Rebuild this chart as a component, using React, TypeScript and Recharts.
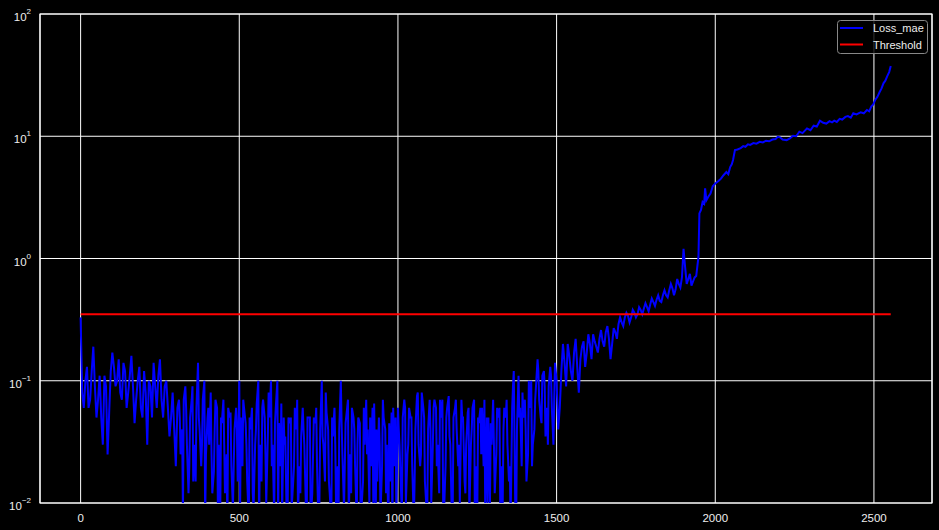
import React from 'react';
import { LineChart, Line, XAxis, YAxis, CartesianGrid, ReferenceArea } from 'recharts';

// loss_mae read every 10 steps from 0 to 1940 (noisy phase)
const noisyStep = 10;
const lossNoisy = [
  0.33, 0.06, 0.13, 0.07, 0.19, 0.05, 0.11, 0.03, 0.09, 0.055,
  0.17, 0.09, 0.15, 0.07, 0.12, 0.08, 0.16, 0.045, 0.1, 0.06,
  0.12, 0.03, 0.09, 0.14, 0.06, 0.15, 0.05, 0.1, 0.035, 0.08,
  0.02, 0.07, 0.04, 0.09, 0.012, 0.07, 0.03, 0.14, 0.02, 0.1,
  0.05, 0.08, 0.018, 0.06, 0.008, 0.07, 0.025, 0.05, 0.009, 0.06,
  0.1, 0.02, 0.045, 0.007, 0.06, 0.03, 0.1, 0.015, 0.05, 0.035,
  0.1, 0.008, 0.1, 0.02, 0.05, 0.006, 0.045, 0.015, 0.04, 0.02,
  0.06, 0.009, 0.05, 0.012, 0.045, 0.006, 0.1, 0.015, 0.04, 0.007,
  0.06, 0.02, 0.1, 0.009, 0.06, 0.025, 0.05, 0.007, 0.045, 0.015,
  0.07, 0.01, 0.06, 0.008, 0.05, 0.02, 0.04, 0.006, 0.055, 0.02,
  0.06, 0.012, 0.07, 0.025, 0.05, 0.007, 0.075, 0.02, 0.06, 0.009,
  0.07, 0.03, 0.06, 0.012, 0.07, 0.02, 0.075, 0.007, 0.06, 0.02,
  0.07, 0.015, 0.055, 0.03, 0.07, 0.008, 0.06, 0.02, 0.05, 0.01,
  0.07, 0.025, 0.06, 0.009, 0.05, 0.015, 0.06, 0.008, 0.11, 0.02,
  0.07, 0.025, 0.1, 0.04, 0.15, 0.05, 0.12, 0.06, 0.13, 0.03,
  0.1, 0.06, 0.2, 0.09, 0.16, 0.1, 0.22, 0.08, 0.19, 0.13,
  0.24, 0.15, 0.21, 0.17, 0.26, 0.19, 0.28, 0.15, 0.27, 0.22,
  0.33, 0.28, 0.36, 0.3, 0.38, 0.33, 0.4, 0.35, 0.43, 0.37,
  0.47, 0.41, 0.5, 0.44, 0.55, 0.48, 0.62, 0.5, 0.68, 0.58,
  1.2, 0.62, 0.75, 0.65, 0.72,
];

// readings half way between the ones above (x = 5, 15, ... 1935)
const lossNoisyMid = [
  0.08, 0.1, 0.06, 0.12, 0.09, 0.07, 0.05, 0.11, 0.025, 0.12,
  0.13, 0.1, 0.08, 0.14, 0.06, 0.11, 0.09, 0.07, 0.13, 0.05,
  0.08, 0.1, 0.05, 0.09, 0.11, 0.07, 0.09, 0.06, 0.05, 0.04,
  0.06, 0.025, 0.07, 0.03, 0.05, 0.015, 0.06, 0.04, 0.07, 0.025,
  0.03, 0.012, 0.07, 0.03, 0.045, 0.012, 0.06, 0.02, 0.04, 0.015,
  0.05, 0.06, 0.015, 0.04, 0.009, 0.065, 0.03, 0.07, 0.01, 0.05,
  0.03, 0.06, 0.045, 0.008, 0.035, 0.05, 0.009, 0.06, 0.008, 0.035,
  0.03, 0.05, 0.007, 0.05, 0.02, 0.04, 0.03, 0.055, 0.012, 0.035,
  0.009, 0.04, 0.025, 0.045, 0.008, 0.06, 0.02, 0.05, 0.009, 0.03,
  0.04, 0.02, 0.065, 0.015, 0.008, 0.05, 0.03, 0.015, 0.06, 0.008,
  0.03, 0.05, 0.01, 0.06, 0.02, 0.04, 0.03, 0.08, 0.015, 0.04,
  0.01, 0.07, 0.03, 0.05, 0.008, 0.06, 0.03, 0.05, 0.04, 0.01,
  0.05, 0.03, 0.008, 0.06, 0.02, 0.045, 0.06, 0.009, 0.05, 0.03,
  0.012, 0.05, 0.02, 0.06, 0.03, 0.007, 0.12, 0.04, 0.06, 0.05,
  0.015, 0.06, 0.03, 0.09, 0.07, 0.11, 0.035, 0.09, 0.06, 0.14,
  0.04, 0.12, 0.14, 0.2, 0.12, 0.17, 0.13, 0.15, 0.21, 0.17,
  0.2, 0.24, 0.19, 0.22, 0.21, 0.25, 0.22, 0.2, 0.25, 0.29,
  0.3, 0.33, 0.34, 0.33, 0.36, 0.35, 0.38, 0.39, 0.4, 0.42,
  0.44, 0.46, 0.45, 0.5, 0.5, 0.55, 0.57, 0.56, 0.62, 0.7,
  0.85, 0.68, 0.6, 0.7,
];

// extra readings in the dense band, x = 302.5, 312.5, ... 1492.5
const denseStart = 302.5;
const lossDense = [
  0.035, 0.05, 0.008, 0.06, 0.02, 0.09, 0.015, 0.05, 0.03, 0.007,
  0.06, 0.025, 0.04, 0.009, 0.05, 0.03, 0.006, 0.055, 0.02, 0.04,
  0.008, 0.07, 0.03, 0.05, 0.012, 0.04, 0.006, 0.06, 0.025, 0.08,
  0.02, 0.045, 0.007, 0.065, 0.03, 0.009, 0.05, 0.02, 0.07, 0.012,
  0.04, 0.007, 0.05, 0.025, 0.06, 0.01, 0.035, 0.08, 0.015, 0.05,
  0.03, 0.006, 0.045, 0.02, 0.07, 0.012, 0.04, 0.03, 0.008, 0.06,
  0.025, 0.05, 0.009, 0.04, 0.03, 0.07, 0.012, 0.045, 0.006, 0.05,
  0.04, 0.008, 0.06, 0.03, 0.05, 0.015, 0.08, 0.025, 0.05, 0.009,
  0.04, 0.06, 0.02, 0.07, 0.01, 0.05, 0.035, 0.008, 0.07, 0.03,
  0.05, 0.012, 0.06, 0.04, 0.007, 0.05, 0.025, 0.07, 0.01, 0.045,
  0.03, 0.06, 0.008, 0.04, 0.07, 0.02, 0.09, 0.006, 0.05, 0.08,
  0.04, 0.1, 0.02, 0.07, 0.12, 0.045, 0.09, 0.03, 0.11, 0.07,
];

// smoother run-up after step ~1945
const tailX = [
  1947, 1950, 1955, 1960, 1965, 1968, 1972, 1978, 1985, 1992,
  2000, 2010, 2018, 2026, 2035, 2041, 2047, 2052, 2056, 2062,
  2070, 2080, 2088, 2095, 2103, 2110, 2120, 2130, 2140, 2150,
  2160, 2170, 2180, 2190, 2197, 2204, 2212, 2225, 2235, 2245,
  2255, 2265, 2275, 2289, 2300, 2310, 2320, 2330, 2340, 2350,
  2360, 2368, 2375, 2383, 2392, 2400, 2410, 2418, 2427, 2435,
  2445, 2458, 2468, 2478, 2485, 2492, 2498, 2504, 2511, 2518,
  2524, 2530, 2536, 2542, 2548, 2553,
];
const tailLoss = [
  1.03, 2.34, 2.5, 2.9, 2.8, 3.75, 3.0, 3.2, 3.4, 3.9,
  4.1, 4.3, 4.5, 4.8, 5.1, 4.9, 5.6, 5.9, 6.4, 7.7,
  7.8, 8.0, 8.3, 8.2, 8.6, 8.5, 8.8, 8.7, 9.0, 8.9,
  9.2, 9.1, 9.4, 9.5, 9.9, 9.8, 9.4, 9.3, 9.6, 10.1,
  10.0, 10.9, 10.6, 11.6, 11.2, 12.2, 12.0, 13.4, 12.9, 12.7,
  13.3, 13.0, 13.4, 13.1, 13.9, 13.7, 14.4, 14.6, 14.2, 15.4,
  15.1, 15.7, 15.4, 16.4, 16.0, 17.6, 18.2, 19.8, 21.0, 23.0,
  24.6, 27.1, 28.5, 31.0, 33.5, 37.6,
];

const THRESHOLD = 0.35;
const xTicks = [0, 500, 1000, 1500, 2000, 2500];
const yTicks = [0.01, 0.1, 1, 10, 100];
const yExponents = ['\u22122', '\u22121', '0', '1', '2'];

const rows: { x: number; loss: number; threshold: number }[] = [];
lossNoisy.forEach((v, i) => rows.push({ x: i * noisyStep, loss: v, threshold: THRESHOLD }));
lossNoisyMid.forEach((v, i) => rows.push({ x: i * noisyStep + noisyStep / 2, loss: v, threshold: THRESHOLD }));
lossDense.forEach((v, i) => rows.push({ x: denseStart + i * noisyStep, loss: v, threshold: THRESHOLD }));
tailX.forEach((x, i) => rows.push({ x, loss: tailLoss[i], threshold: THRESHOLD }));
rows.sort((a, b) => a.x - b.x);

const FONT = '"Liberation Sans", Arial, sans-serif';
const TEXT = '#eeeeee';

const XTick = ({ x, payload }: any) => (
  <text x={x} y={522} textAnchor="middle" fill={TEXT} fontSize={11.5} fontFamily={FONT}>
    {payload.value}
  </text>
);

const YTick = ({ y, payload }: any) => {
  const idx = yTicks.indexOf(payload.value);
  return (
    <text x={31} y={y + 7} textAnchor="end" fill={TEXT} fontSize={11.5} fontFamily={FONT}>
      <tspan>10</tspan>
      <tspan dy={-7} fontSize={8}>{yExponents[idx]}</tspan>
    </text>
  );
};

const LegendBox = () => (
  <svg width={92} height={35} style={{ position: 'absolute', left: 837, top: 20 }}>
    <rect x={0.5} y={0.5} width={90} height={33} rx={3} fill="rgba(0,0,0,0.8)" stroke="#888888" />
    <line x1={3} y1={8} x2={26} y2={8} stroke="#0000ff" strokeWidth={2} />
    <text x={36} y={12} fill={TEXT} fontSize={11} fontFamily={FONT}>Loss_mae</text>
    <line x1={3} y1={24.5} x2={26} y2={24.5} stroke="#ff0000" strokeWidth={2} />
    <text x={36} y={28.5} fill={TEXT} fontSize={11} fontFamily={FONT}>Threshold</text>
  </svg>
);

export default function App() {
  return (
    <div style={{ position: 'fixed', left: 0, top: 0, width: 939, height: 530, background: '#000000' }}>
      <LineChart width={939} height={530} data={rows} margin={{ top: 14, right: 7, left: 0, bottom: 0 }}>
        <CartesianGrid stroke="#ffffff" strokeWidth={1} />
        <XAxis
          type="number"
          dataKey="x"
          domain={[-128, 2683]}
          ticks={xTicks}
          allowDataOverflow
          height={27}
          tickLine={false}
          axisLine={false}
          tick={<XTick />}
        />
        <YAxis
          type="number"
          scale="log"
          domain={[0.01, 100]}
          ticks={yTicks}
          allowDataOverflow
          width={40}
          tickLine={false}
          axisLine={false}
          tick={<YTick />}
        />
        <ReferenceArea x1={-128} x2={2683} y1={0.01} y2={100} fill="none" stroke="#ffffff" strokeWidth={1.2} />
        <Line
          type="linear"
          dataKey="loss"
          stroke="#0000ff"
          strokeWidth={2}
          dot={false}
          isAnimationActive={false}
        />
        <Line
          type="linear"
          dataKey="threshold"
          stroke="#ff0000"
          strokeWidth={2}
          dot={false}
          isAnimationActive={false}
        />
      </LineChart>
      <LegendBox />
    </div>
  );
}
